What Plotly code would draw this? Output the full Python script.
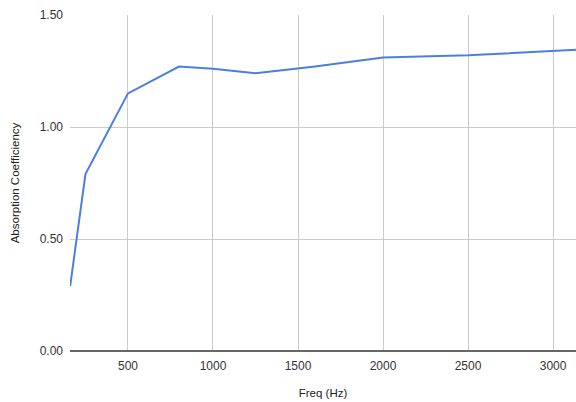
import plotly.graph_objects as go

freq_hz = [160, 250, 500, 800, 1000, 1250, 1600, 2000, 2500, 3150]
absorption = [0.29, 0.79, 1.15, 1.27, 1.26, 1.24, 1.27, 1.31, 1.32, 1.345]

x_ticks = [500, 1000, 1500, 2000, 2500, 3000]
y_ticks = [0.0, 0.5, 1.0, 1.5]

fig = go.Figure()
fig.add_trace(go.Scatter(
    x=freq_hz, y=absorption, mode="lines",
    line=dict(color="#4a7fe0", width=2),
    showlegend=False,
))

font_family = "Liberation Sans, Arial, sans-serif"
fig.update_layout(
    width=576, height=402,
    margin=dict(l=70, r=0, t=15, b=51, autoexpand=False),
    paper_bgcolor="white", plot_bgcolor="white",
    font=dict(family=font_family, size=12, color="#333333"),
    xaxis=dict(
        range=[159, 3135], automargin=False,
        tickvals=x_ticks, ticktext=[str(v) for v in x_ticks],
        showgrid=True, gridcolor="#cccccc", gridwidth=1,
        zeroline=False, showline=False, ticks="", ticklabelstandoff=6,
        tickfont=dict(size=12, color="#333333"),
        title=dict(text="Freq (Hz)", font=dict(size=11.5, color="#222222"), standoff=16),
    ),
    yaxis=dict(
        range=[0, 1.5], automargin=False,
        tickvals=y_ticks, ticktext=[f"{v:.2f}" for v in y_ticks],
        showgrid=True, gridcolor="#cccccc", gridwidth=1,
        zeroline=True, zerolinecolor="#666666", zerolinewidth=1.5,
        showline=False, ticks="", ticklabelstandoff=6,
        tickfont=dict(size=12, color="#333333"),
        title=dict(text="Absorption Coefficiency", font=dict(size=11.5, color="#222222"), standoff=17),
    ),
)

fig.write_html(
    "out.html",
    config={"displayModeBar": False},
    post_script="document.body.style.margin='0';"
                "document.documentElement.style.overflow='hidden';"
                "document.body.style.overflow='hidden';",
)
